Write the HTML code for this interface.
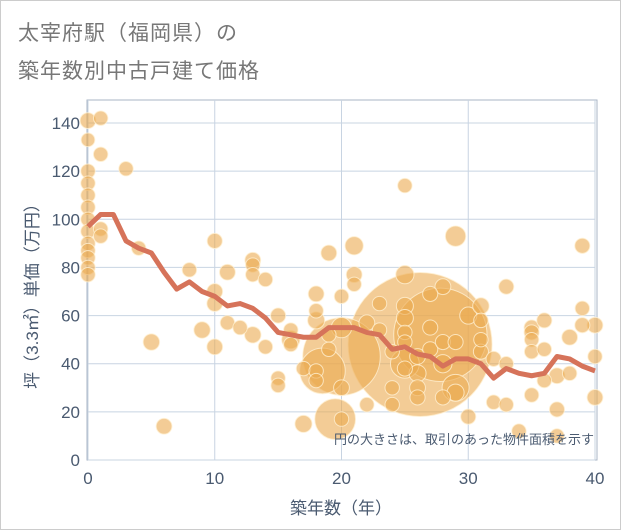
<!DOCTYPE html>
<html><head><meta charset="utf-8"><style>
body{margin:0;background:#fff;}
#card{position:absolute;left:0;top:0;width:619px;height:528px;border:1px solid #ccc;background:#fff;}
.title{position:absolute;left:17px;font:21px "Liberation Sans","Noto Sans CJK JP",sans-serif;color:#777;letter-spacing:1px;}
svg text{font-family:"Liberation Sans","Noto Sans CJK JP",sans-serif;}
</style></head><body>
<div id="card">
<div class="title" style="top:16px">太宰府駅（福岡県）の</div>
<div class="title" style="top:54px">築年数別中古戸建て価格</div>
</div>
<svg id="chart" width="621" height="530" style="position:absolute;left:0;top:0"></svg>
<script>
const xTicks=[0,10,20,30,40];
const yTicks=[0,20,40,60,80,100,120,140];
const bubbleAge=[0,0,0,0,0,0,0,0,0,0,0,0,0,1,1,1,1,3,4,5,6,8,9,10,10,10,10,11,11,12,13,13,13,13,14,14,15,15,15,16,16,16,17,17,18,18,18,18,18,19,19,19,20,20,20,20,21,21,21,22,22,23,23,24,24,24,25,25,25,25,25,25,25,26,26,26,26,27,27,27,28,28,28,28,29,29,29,30,30,31,31,31,31,32,32,33,33,33,34,35,35,35,35,35,36,36,36,37,37,37,38,38,39,39,39,40,40,40,26.2,27.8,20,18.5,19.5,25,29];
const bubblePrice=[141,133,120,115,110,105,100,95,90,87,84,80,77,142,127,96,93,121,88,49,14,79,54,91,70,65,47,78,57,55,83,81,77,52,75,47,34,31,60,54,50,48,15,38,69,62,58,37,33,86,52,46,68,55,30,17,89,77,73,57,23,65,54,45,30,23,114,77,64,59,53,49,38,43,36,30,26,69,55,46,72,49,40,26,93,49,28,60,18,64,58,50,45,42,24,72,40,23,12,55,53,50,45,27,58,46,33,35,21,10,51,36,89,63,56,56,43,26,48,52,43,37,17,40,30];
const bubbleArea=[120,90,100,100,100,100,100,100,100,100,100,100,100,100,100,100,100,100,100,130,120,100,130,110,120,120,120,120,100,100,120,100,100,130,100,100,100,100,110,100,160,100,140,100,120,100,140,100,100,120,100,100,100,200,120,100,160,120,100,120,100,100,100,100,100,100,100,160,140,140,100,100,110,120,140,120,110,110,110,110,120,110,160,110,200,110,140,140,110,130,100,100,110,110,100,110,100,100,100,110,110,100,100,100,110,100,100,120,110,100,120,100,110,100,110,120,100,120,10000,4200,2900,1000,800,400,350];
const lineAge=[0,1,2,3,4,5,6,7,8,9,10,11,12,13,14,15,16,17,18,19,20,21,22,23,24,25,26,27,28,29,30,31,32,33,34,35,36,37,38,39,40];
const linePrice=[97,102,102,91,88,86,78,71,74,70,68,64,65,63,59,53,52,51,51,55,55,55,53,52,46,47,44,43,39,42,42,40,34,38,36,35,36,43,42,39,37];
const L=88,R=595,T=100,B=460;
const xs=v=>L+(v/40)*(R-L);
const ys=v=>B-(v/140)*(B-123);
const svg=document.getElementById('chart');
const NS='http://www.w3.org/2000/svg';
function mk(t,a){const e=document.createElementNS(NS,t);for(const k in a)e.setAttribute(k,a[k]);svg.appendChild(e);return e;}
let fr=mk('rect',{x:L-1,y:T,width:R-L+3,height:B-T,fill:'none',stroke:'#aab6c6'});


xTicks.forEach(t=>{
 const g=mk('line',{x1:xs(t),x2:xs(t),y1:T,y2:B,stroke:'#c8d4e2'});
 
 
 const tx=mk('text',{x:xs(t),y:B+24,'text-anchor':'middle','font-size':17,fill:'#4a5a70'});
 tx.textContent=t;
 
 
});
yTicks.forEach(t=>{
 const g=mk('line',{x1:L,x2:R,y1:ys(t),y2:ys(t),stroke:'#c8d4e2'});
 
 
 const tx=mk('text',{x:L-8,y:ys(t)+6,'text-anchor':'end','font-size':17,fill:'#4a5a70'});
 tx.textContent=t;
 
 
});
const order=bubbleAge.map((_,i)=>i).sort((a,b)=>bubbleArea[b]-bubbleArea[a]);
order.forEach(i=>{
 const r=Math.sqrt(bubbleArea[i])*0.72;
 const c=mk('circle',{cx:xs(bubbleAge[i]),cy:ys(bubblePrice[i]),r:r,fill:'rgba(235,170,80,0.6)',stroke:'rgba(255,240,210,0.8)','stroke-width':1});
 
 
});
const pl=mk('polyline',{points:lineAge.map((a,i)=>xs(a)+','+ys(linePrice[i])).join(' '),fill:'none',stroke:'#d6735a','stroke-width':5,'stroke-linejoin':'round'});


const note=mk('text',{x:594,y:444,'text-anchor':'end','font-size':13,fill:'#4a5a70'});
note.textContent='円の大きさは、取引のあった物件面積を示す';


const xt=mk('text',{x:341,y:514,'text-anchor':'middle','font-size':17,fill:'#4a5a70'});
xt.textContent='築年数（年）';


const yt=mk('text',{x:0,y:0,'text-anchor':'middle','font-size':17,fill:'#4a5a70',transform:'translate(38,292) rotate(-90)'});
yt.textContent='坪（3.3㎡）単価（万円）';


</script>
</body></html>
